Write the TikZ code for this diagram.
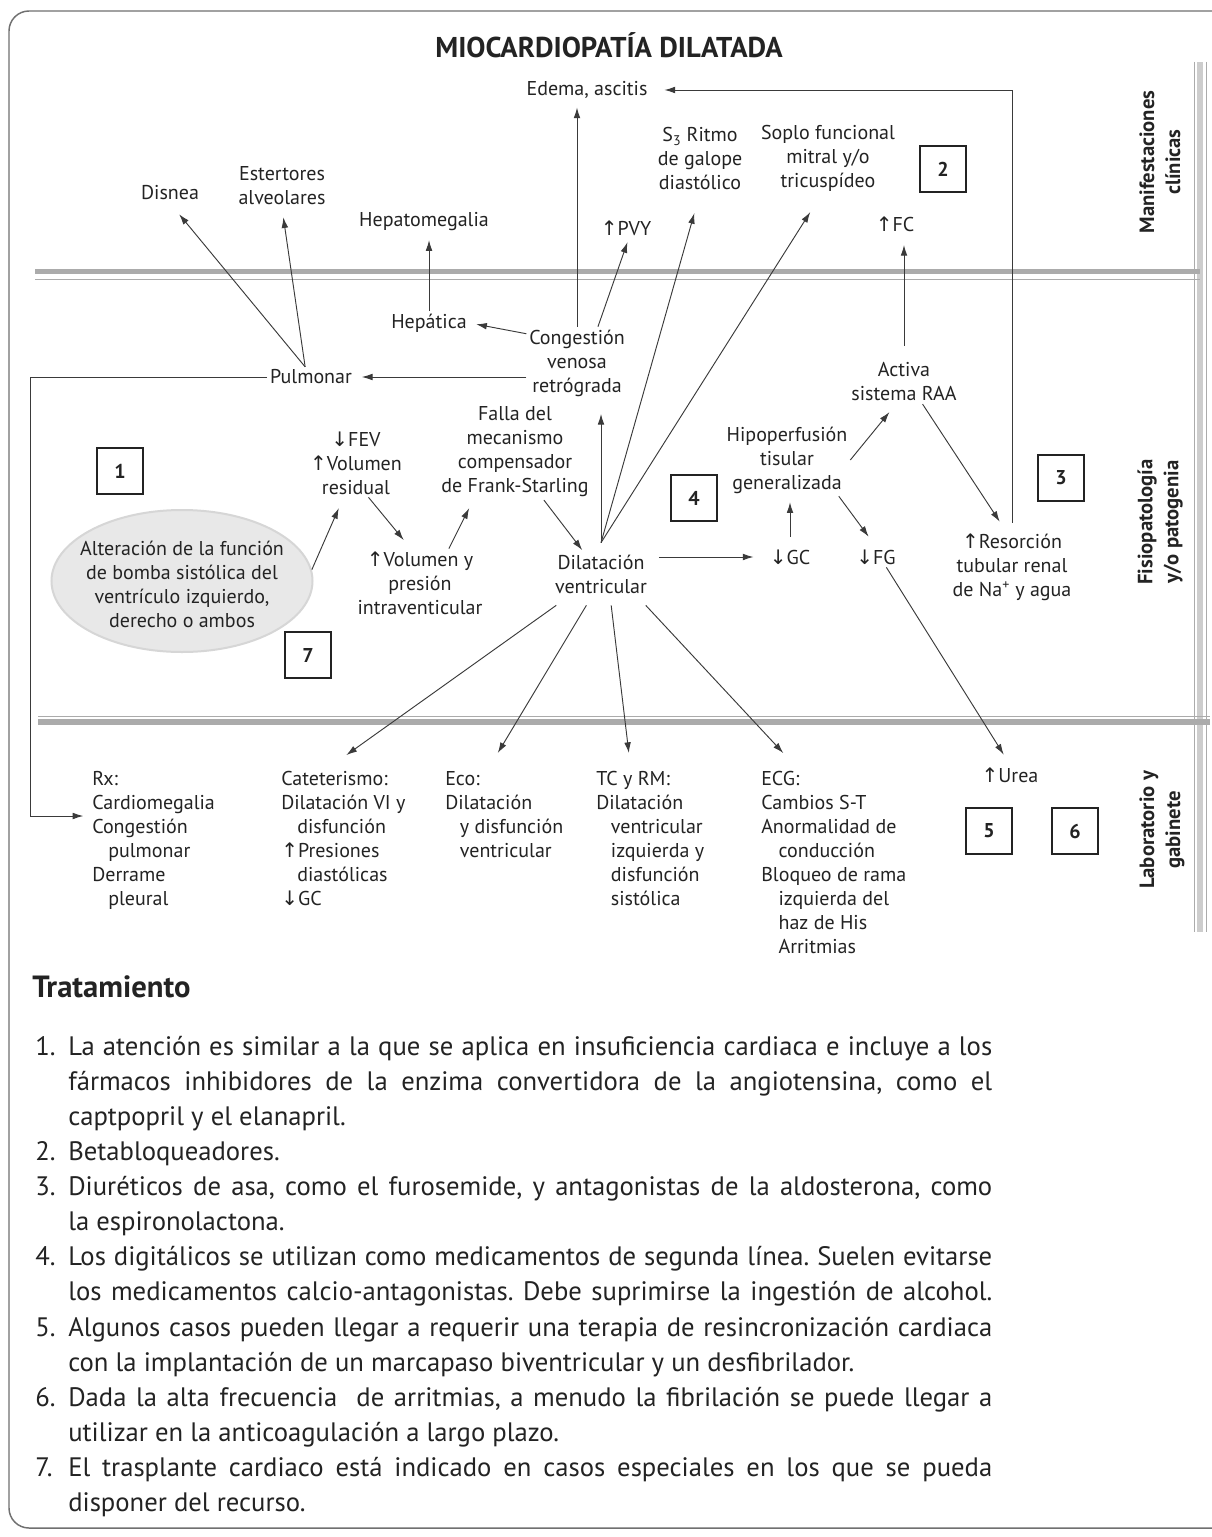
\documentclass[tikz,border=0pt]{standalone}
\usepackage{fontspec}
\setmainfont{PT Sans}
\newfontfamily\glyphfont{DejaVu Sans}
\usetikzlibrary{calc,arrows.meta,shapes.geometric}

\definecolor{ink}{HTML}{232323}
\definecolor{linec}{HTML}{3A3A3A}
\definecolor{sepgray}{HTML}{ABABAB}
\definecolor{framegray}{HTML}{707070}

\newcommand{\diagfont}{\fontsize{15}{18}\selectfont}
\newcommand{\boxfont}{\fontsize{15}{18}\selectfont\bfseries}
\newcommand{\sidefont}{\fontsize{15.5}{19.5}\selectfont\bfseries}
\newcommand{\titlefont}{\fontsize{21.5}{25}\selectfont\bfseries}
\newcommand{\headfont}{\fontsize{23}{27}\selectfont\bfseries}
\newcommand{\listfont}{\fontsize{20}{26.3}\selectfont}
\newcommand{\UpA}{{\glyphfont ↑}}
\newcommand{\DnA}{{\glyphfont ↓}}
\frenchspacing

\begin{document}
\begin{tikzpicture}[x=0.75pt,y=-0.75pt,
  txt/.style={font=\diagfont, align=center, inner sep=2pt, text=ink},
  lab/.style={font=\diagfont, align=left, inner sep=0pt, anchor=north west, text=ink},
  numbox/.style={draw=ink, line width=0.9pt, minimum width=34.5pt, minimum height=34.5pt, inner sep=0pt, font=\boxfont, text=ink},
  arr/.style={draw=linec, line width=0.7pt, -{Latex[length=8pt,width=5pt]}},
  side/.style={font=\sidefont, rotate=90, align=center, text=ink},
  septhin/.style={draw=sepgray, line width=0.6pt}]

\useasboundingbox (0,0) rectangle (1212,1537);
\fill[white] (0,0) rectangle (1212,1537);

% page frame and section rules
\draw[framegray, line width=1.1pt, rounded corners=15pt] (1212,11) -- (9,11) -- (9,1528) -- (1212,1528);
\fill[sepgray!60] (1197,62) rectangle (1203,932);
\draw[septhin] (1194,62) -- (1194,932);
\draw[septhin] (1206,62) -- (1206,932);
\fill[sepgray] (35,269) rectangle (1200,274);
\draw[septhin] (35,279) -- (1200,279);
\draw[septhin] (38,716) -- (1210,716);
\fill[sepgray] (38,719) rectangle (1210,725);

% title and section labels
\node[font=\titlefont, text=ink] (title) at (609,45) {MIOCARDIOPATÍA DILATADA};
\node[side] (sMan) at (1160,162) {Manifestaciones\\clínicas};
\node[side] (sFis) at (1160,522) {Fisiopatología\\y/o patogenia};
\node[side] (sLab) at (1162,830) {Laboratorio y\\gabinete};

% clinical manifestations
\node[txt] (edema) at (587,90) {Edema, ascitis};
\node[txt] (disnea) at (170,193) {Disnea};
\node[txt] (est) at (282,186) {Estertores\\alveolares};
\node[txt] (hepm) at (424,222) {Hepatomegalia};
\node[txt] (pvy) at (626,228) {\UpA PVY};
\node[txt] (s3) at (700,159) {S\textsubscript{3} Ritmo\\de galope\\diastólico};
\node[txt] (soplo) at (828,158) {Soplo funcional\\mitral y/o\\tricuspídeo};
\node[txt] (fc) at (895,224) {\UpA FC};
\node[numbox] (n2) at (943,169) {2};

% pathophysiology
\node[ellipse, fill=black!9, draw=black!16, line width=1.5pt, minimum width=195.75pt, minimum height=106.5pt, inner sep=0pt] (ell) at (182,581) {};
\node[txt] (elltxt) at (182,584) {Alteración de la función\\de bomba sistólica del\\ventrículo izquierdo,\\derecho o ambos};
\node[txt] (hep) at (429,323) {Hepática};
\node[txt] (cong) at (577,363) {Congestión\\venosa\\retrógrada};
\node[txt] (pulm) at (311,377) {Pulmonar};
\node[txt] (falla) at (515,452) {Falla del\\mecanismo\\compensador\\de Frank-Starling};
\node[txt] (fev) at (356,463) {\DnA FEV\\\UpA Volumen\\residual};
\node[txt] (vol) at (420,583) {\UpA Volumen y\\presión\\intraventicular};
\node[txt, outer sep=7pt] (dil) at (601,574) {Dilatación\\ventricular};
\node[txt] (gc) at (790,557) {\DnA GC};
\node[txt] (fg) at (876,557) {\DnA FG};
\node[txt] (hipo) at (787,460) {Hipoperfusión\\tisular\\generalizada};
\node[txt] (raa) at (904,382) {Activa\\sistema RAA};
\node[txt] (res) at (1012,567) {\UpA Resorción\\tubular renal\\de Na\textsuperscript{+} y agua};
\node[numbox] (n1) at (120,471) {1};
\node[numbox] (n4) at (694,498) {4};
\node[numbox] (n7) at (308,655) {7};
\node[numbox] (n3) at (1061,478) {3};

% laboratory and imaging
\node[lab] (rx) at (92,771) {Rx:\\Cardiomegalia\\Congestión\\\hspace*{12pt}pulmonar\\Derrame\\\hspace*{12pt}pleural};
\node[lab] (cat) at (281,771) {Cateterismo:\\Dilatación VI y\\\hspace*{12pt}disfunción\\\UpA Presiones\\\hspace*{12pt}diastólicas\\\DnA GC};
\node[lab] (eco) at (445,771) {Eco:\\Dilatación\\\hspace*{11pt}y disfunción\\\hspace*{11pt}ventricular};
\node[lab] (tc) at (596,771) {TC y RM:\\Dilatación\\\hspace*{11pt}ventricular\\\hspace*{11pt}izquierda y\\\hspace*{11pt}disfunción\\\hspace*{11pt}sistólica};
\node[lab] (ecg) at (761,771) {ECG:\\Cambios S-T\\Anormalidad de\\\hspace*{13pt}conducción\\Bloqueo de rama\\\hspace*{13pt}izquierda del\\\hspace*{13pt}haz de His\\\hspace*{13pt}Arritmias};
\node[txt] (urea) at (1010,775) {\UpA Urea};
\node[numbox] (n5) at (989,831) {5};
\node[numbox] (n6) at (1075,831) {6};

% connectors
\draw[arr, shorten >=10.8pt] (pulm.120) -- (disnea.south);
\draw[arr, shorten >=7pt] (pulm.120) -- (est.south);
\draw[arr, shorten >=4.5pt] (hep.north) -- (hep.north |- hepm.south);
\draw[arr, shorten >=4.5pt] (cong.north) -- (cong.north |- edema.south);
\draw[arr, shorten >=3pt] (cong.60) -- (pvy.-75);
\draw[arr, shorten >=5pt] (cong.150) -- (hep.east);
\draw[arr, shorten >=5.3pt] (cong.west |- pulm) -- (pulm.east);
\coordinate (rxbend) at (30,377);
\draw[arr, shorten >=6.5pt] (pulm.west) -- (rxbend) |- ($(rx.north west)+(0,45)$);

\draw[arr, shorten >=8.8pt] (ell.5) -- (fev.-110);
\draw[arr, shorten >=8.3pt] (fev.-70) -- (vol.105);
\draw[arr, shorten >=6.8pt] (vol.50) -- (falla.-131);
\draw[arr, shorten >=-7pt] (falla.-59) -- (dil.128);

\draw[arr, shorten >=11pt] (dil.north) -- (dil.north |- cong.south);
\draw[arr, shorten >=15.5pt] (dil.north) -- (s3.south);
\draw[arr, shorten >=16pt] (dil.north) -- (soplo.-100);
\draw[arr, shorten >=10pt] (dil.east |- gc) -- (gc.west);
\draw[arr, shorten <=7.5pt, shorten >=4.5pt] (gc.north) -- (gc.north |- hipo.south);
\draw[arr, shorten >=7.7pt] (hipo.east) -- (raa.-110);
\draw[arr, shorten >=9.3pt] (hipo.-35) -- (fg.north);
\draw[arr, shorten <=10.5pt, shorten >=8pt] (raa.north) -- (raa.north |- fc.south);
\draw[arr, shorten >=8pt] (raa.-50) -- (res.100);
\draw[arr, shorten <=6pt, shorten >=10.5pt] (res.north) |- (edema.east);
\draw[arr, shorten >=8.9pt] (fg.-45) -- (urea.north);

\draw[arr, shorten >=20.6pt] (dil.-145) -- ($(cat.north west)+(43,0)$);
\draw[arr, shorten >=15.7pt] (dil.-115) -- ($(eco.north west)+(42,0)$);
\draw[arr, shorten >=13.6pt] (dil.-72) -- ($(tc.north west)+(35,0)$);
\draw[arr, shorten >=18.4pt] (dil.-35) -- ($(ecg.north west)+(39,0)$);

% treatment
\node[anchor=west, font=\headfont, text=ink, inner sep=0pt] (tratH) at (32,987) {Tratamiento};
\node[anchor=north west, text width=717.75pt, inner sep=0pt, font=\listfont, text=ink, align=justify] (trat) at (35,1036) {%
\hyphenpenalty=10000 \tolerance=9999 \parskip=0pt \emergencystretch=20pt
\hangindent=24.75pt\hangafter=1\noindent\makebox[24.75pt][l]{1.}La atención es similar a la que se aplica en insuficiencia cardiaca e incluye a los\linebreak fármacos inhibidores de la enzima convertidora de la angiotensina, como el\linebreak captpopril y el elanapril.\par
\hangindent=24.75pt\hangafter=1\noindent\makebox[24.75pt][l]{2.}Betabloqueadores.\par
\hangindent=24.75pt\hangafter=1\noindent\makebox[24.75pt][l]{3.}Diuréticos de asa, como el furosemide, y antagonistas de la aldosterona, como\linebreak la espironolactona.\par
\parfillskip=0pt
\hangindent=24.75pt\hangafter=1\noindent\makebox[24.75pt][l]{4.}Los digitálicos se utilizan como medicamentos de segunda línea. Suelen evitarse\linebreak los medicamentos calcio-antagonistas. Debe suprimirse la ingestión de alcohol.\par
\parfillskip=0pt plus 1fil
\hangindent=24.75pt\hangafter=1\noindent\makebox[24.75pt][l]{5.}Algunos casos pueden llegar a requerir una terapia de resincronización cardiaca\linebreak con la implantación de un marcapaso biventricular y un desfibrilador.\par
\hangindent=24.75pt\hangafter=1\noindent\makebox[24.75pt][l]{6.}Dada la alta frecuencia\ \ de arritmias, a menudo la fibrilación se puede llegar a\linebreak utilizar en la anticoagulación a largo plazo.\par
\hangindent=24.75pt\hangafter=1\noindent\makebox[24.75pt][l]{7.}El trasplante cardiaco está indicado en casos especiales en los que se pueda\linebreak disponer del recurso.\par};
\end{tikzpicture}
\end{document}
